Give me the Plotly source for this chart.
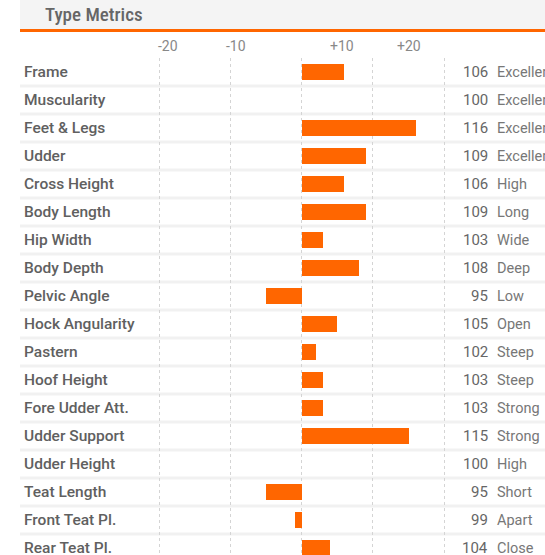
import plotly.graph_objects as go

categories = ["Frame", "Muscularity", "Feet & Legs", "Udder", "Cross Height", "Body Length",
              "Hip Width", "Body Depth", "Pelvic Angle", "Hock Angularity", "Pastern",
              "Hoof Height", "Fore Udder Att.", "Udder Support", "Udder Height",
              "Teat Length", "Front Teat Pl.", "Rear Teat Pl."]
values = [106, 100, 116, 109, 106, 109, 103, 108, 95, 105, 102, 103, 103, 115, 100, 95, 99, 104]
ratings = ["Excellent", "Excellent", "Excellent", "Excellent", "High", "Long", "Wide", "Deep",
           "Low", "Open", "Steep", "Steep", "Strong", "Strong", "High", "Short", "Apart", "Close"]
baseline = 100
tick_vals = [-20, -10, 0, 10, 20]
tick_labels = ["-20", "-10", "+10", "+20"]
tick_label_pos = [-18.7, -9.2, 5.6, 15.0]

W, H = 545, 555
TOP = 58
PH = H - TOP

def px(x):
    return x / W

def py(y):
    return (H - y) / PH

deviation = [v - baseline for v in values]
idx = list(range(len(categories)))

ORANGE = "#ff6600"
COND = "Roboto Condensed, Roboto, sans-serif"
REG = "Roboto, sans-serif"

fig = go.Figure()
fig.add_trace(go.Bar(
    y=idx, x=deviation, orientation="h", base=0,
    marker=dict(color=ORANGE, line=dict(width=0)),
    width=0.57, hoverinfo="skip",
))

shapes = []
shapes.append(dict(type="rect", xref="paper", yref="paper", x0=px(20), x1=1, y0=py(29), y1=py(0),
                   fillcolor="#f4f4f4", line=dict(width=0), layer="below"))
shapes.append(dict(type="rect", xref="paper", yref="paper", x0=px(20), x1=1, y0=py(32), y1=py(29),
                   fillcolor=ORANGE, line=dict(width=0), layer="below"))
for i in range(len(categories) - 1):
    shapes.append(dict(type="line", xref="paper", yref="y", x0=px(20), x1=1, y0=i + 0.5, y1=i + 0.5,
                       line=dict(color="#f1f1f1", width=3), layer="below"))

annotations = []
annotations.append(dict(text="Type Metrics", xref="paper", yref="paper", x=px(43), y=py(15),
                        xanchor="left", yanchor="middle", showarrow=False,
                        font=dict(family=COND, size=19, color="#666666", weight=500)))
for t, p in zip(tick_labels, tick_label_pos):
    annotations.append(dict(text=t, xref="x", yref="paper", x=p, y=py(46),
                            xanchor="center", yanchor="middle", showarrow=False,
                            font=dict(family=REG, size=14, color="#888888")))
for i, (c, v, r) in enumerate(zip(categories, values, ratings)):
    annotations.append(dict(text=c, xref="paper", yref="y", x=px(22), y=i,
                            xanchor="left", yanchor="middle", showarrow=False,
                            font=dict(family=REG, size=15.5, color="#606060", weight=500)))
    annotations.append(dict(text=str(v), xref="paper", yref="y", x=px(490), y=i,
                            xanchor="right", yanchor="middle", showarrow=False,
                            font=dict(family=REG, size=15, color="#666666")))
    annotations.append(dict(text=r, xref="paper", yref="y", x=px(495), y=i,
                            xanchor="left", yanchor="middle", showarrow=False,
                            font=dict(family=REG, size=14.5, color="#777777")))

x0px = 301.7
scale = 7.125
fig.update_layout(
    width=W, height=H,
    margin=dict(l=0, r=0, t=TOP, b=0, pad=0),
    paper_bgcolor="white", plot_bgcolor="white",
    showlegend=False,
    shapes=shapes, annotations=annotations,
    xaxis=dict(range=[-x0px / scale, (W - x0px) / scale], tickvals=tick_vals, showticklabels=False,
               showgrid=True, gridcolor="#d4d4d4", griddash="dot", gridwidth=1,
               zeroline=False, showline=False, fixedrange=True),
    yaxis=dict(range=[len(categories) - 0.75, -0.5], showticklabels=False, showgrid=False,
               zeroline=False, showline=False, fixedrange=True),
    bargap=0,
)

fig.write_html("out.html", config={"displayModeBar": False},
               post_script="document.body.style.margin='0';document.body.style.overflow='hidden';")
